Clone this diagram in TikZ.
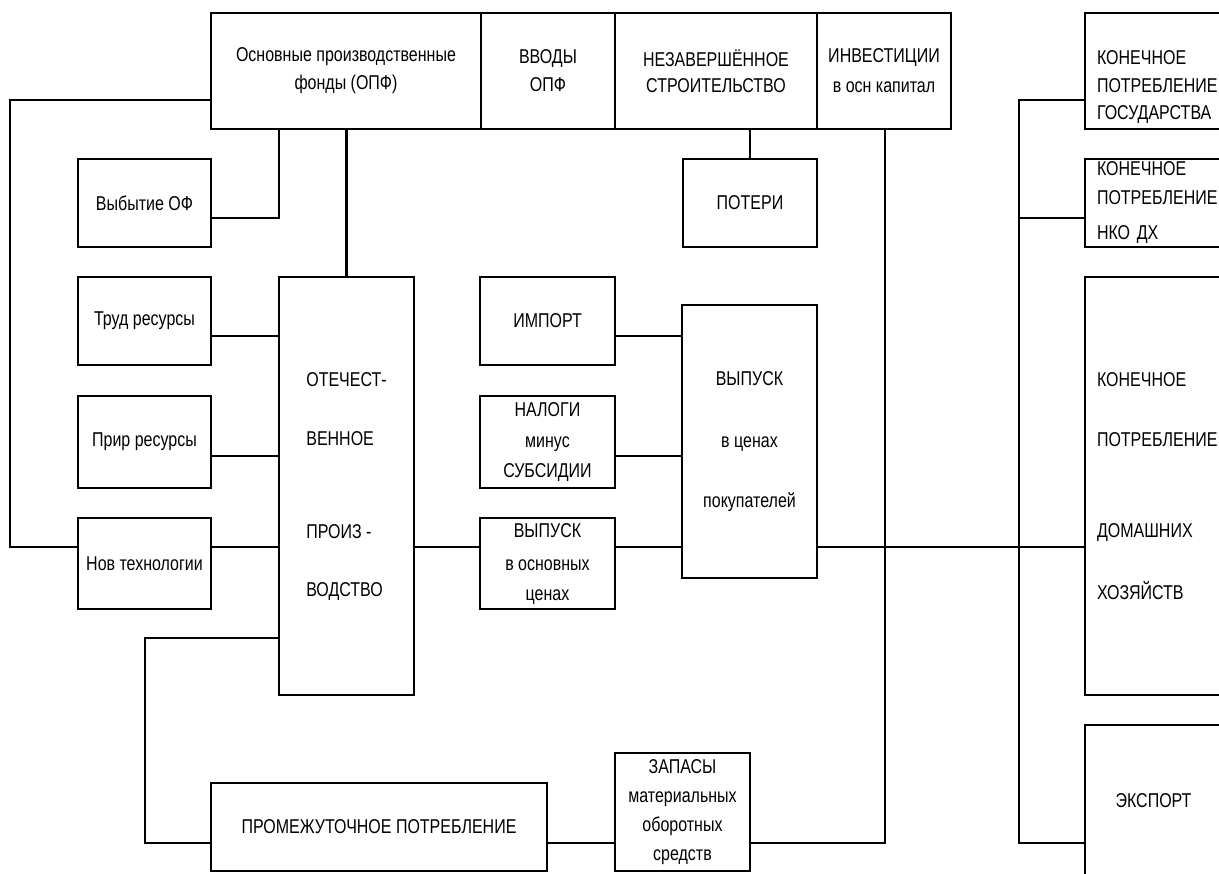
\documentclass[tikz,border=0pt]{standalone}
\usepackage{fontspec}
\setmainfont{Liberation Sans}[FakeStretch=0.8]

\begin{document}
\begin{tikzpicture}[x=0.5pt, y=-0.5pt, line width=1.4pt,
	b/.style={draw, inner sep=1pt, align=center, font=\fontsize{10}{14}\selectfont},
	r/.style={b, align=left, inner xsep=6pt, text width=56.5pt, minimum width=68.5pt}]
	\useasboundingbox (0,0) rectangle (1219,873);
	\clip (0,0) rectangle (1219,873);

	% top row
	\node[b, minimum width=135pt, minimum height=58pt] (opf) at (346,71) {Основные производственные\\фонды  (ОПФ)};
	\node[b, minimum width=67pt, minimum height=58pt] (vvod) at (548,71) {ВВОДЫ\\ОПФ};
	\node[b, minimum width=101pt, minimum height=58pt] (nezav) at (716,71) {НЕЗАВЕРШЁННОЕ\\[-1pt]СТРОИТЕЛЬСТВО};
	\node[b, minimum width=67pt, minimum height=58pt] (invest) at (884,71) {ИНВЕСТИЦИИ\\[1pt]в осн капитал};
	\node[b, minimum width=67pt, minimum height=44pt] (poteri) at (750,203) {ПОТЕРИ};

	% left column
	\node[b, minimum width=66.5pt, minimum height=44pt] (vybytie) at (144.5,203) {Выбытие ОФ};
	\node[b, minimum width=66.5pt, minimum height=44pt] (trud) at (144.5,321) {Труд  ресурсы};
	\node[b, minimum width=66.5pt, minimum height=46pt] (prir) at (144.5,442) {Прир  ресурсы};
	\node[b, minimum width=66.5pt, minimum height=45.5pt] (nov) at (144.5,563.5) {Нов технологии};
	\node[b, align=left, minimum width=67.5pt, minimum height=209pt] (prod) at (346.5,486) {ОТЕЧЕСТ-\\[15.5pt]ВЕННОЕ\\[32.5pt]ПРОИЗ -\\[15pt]ВОДСТВО};

	% middle
	\node[b, minimum width=67.5pt, minimum height=44pt] (import) at (547.5,321) {ИМПОРТ};
	\node[b, minimum width=67.5pt, minimum height=46pt] (nalogi) at (547.5,442) {НАЛОГИ\\[1.5pt]минус\\[0.5pt]СУБСИДИИ};
	\node[b, minimum width=67.5pt, minimum height=45.5pt] (vyposn) at (547.5,563.5) {ВЫПУСК\\[2.5pt]в основных\\[1pt]ценах};
	\node[b, minimum width=67.5pt, minimum height=136.5pt] (vyppok) at (749.5,441.5) {ВЫПУСК\\[17pt]в ценах\\[16pt]покупателей};

	% bottom row
	\node[b, minimum width=168pt, minimum height=44pt] (prom) at (379,827) {ПРОМЕЖУТОЧНОЕ ПОТРЕБЛЕНИЕ};
	\node[b, minimum width=67.5pt, minimum height=59pt] (zapasy) at (682.5,812) {ЗАПАСЫ\\[0.5pt]материальных\\[0.5pt]оборотных\\[0.5pt]средств};

	% right column
	\node[r, minimum height=58pt] (gos) at (1153.5,71) {\rule{0pt}{23pt}КОНЕЧНОЕ\\ПОТРЕБЛЕНИЕ\\[-0.5pt]ГОСУДАРСТВА};
	\node[r, minimum height=44pt] (nko) at (1153.5,203) {КОНЕЧНОЕ\\[0.5pt]ПОТРЕБЛЕНИЕ\\[3.5pt]НКО ДХ};
	\node[r, minimum height=209pt] (dx) at (1153.5,486) {КОНЕЧНОЕ\\[16pt]ПОТРЕБЛЕНИЕ\\[31.5pt]ДОМАШНИХ\\[17pt]ХОЗЯЙСТВ};
	\node[b, minimum width=68.5pt, minimum height=75.5pt] (eksport) at (1153.5,800.5) {ЭКСПОРТ};

	% connectors
	\draw (opf.west |- 0,100) -| (10,547) -- (nov.west |- 0,547);
	\draw (vybytie.east |- 0,218) -| (opf.south -| 279,0);
	\draw (opf.south -| prod.north) -- (prod.north);
	\draw (trud.east |- 0,336) -- (prod.west |- 0,336);
	\draw (prir.east |- 0,456) -- (prod.west |- 0,456);
	\draw (nov.east |- 0,547) -- (prod.west |- 0,547);
	\draw (prod.east |- 0,547) -- (vyposn.west |- 0,547);
	\draw (prod.west |- 0,638) -| (145,843) -- (prom.west |- 0,843);
	\draw (prom.east |- 0,843) -- (zapasy.west |- 0,843);
	\draw (zapasy.east |- 0,843) -| (invest.south -| 885,0);
	\draw (nezav.south -| poteri.north) -- (poteri.north);
	\draw (import.east |- 0,336) -- (vyppok.west |- 0,336);
	\draw (nalogi.east |- 0,456) -- (vyppok.west |- 0,456);
	\draw (vyposn.east |- 0,547) -- (vyppok.west |- 0,547);
	\draw (vyppok.east |- 0,547) -- (dx.west |- 0,547);
	\draw (gos.west |- 0,100) -| (1019,843) -- (eksport.west |- 0,843);
	\draw (nko.west |- 0,218) -- (1019,218);
\end{tikzpicture}
\end{document}
